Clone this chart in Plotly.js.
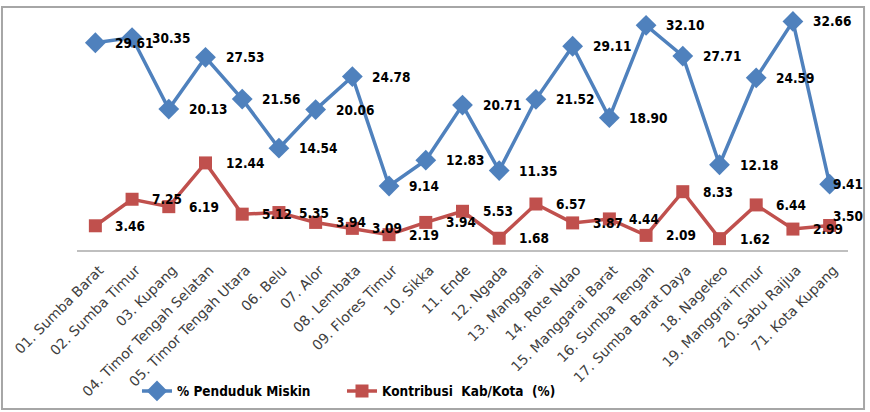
<!DOCTYPE html>
<html>
<head>
<meta charset="utf-8">
<script src="https://cdn.plot.ly/plotly-3.0.1.min.js"></script>
<style>
  html, body { margin: 0; padding: 0; background: #ffffff; }
  #chart { width: 870px; height: 412px; }
</style>
</head>
<body>
<div id="chart"></div>
<script>
const categories = [
  "01. Sumba Barat", "02. Sumba Timur", "03. Kupang", "04. Timor Tengah Selatan",
  "05. Timor Tengah Utara", "06. Belu", "07. Alor", "08. Lembata", "09. Flores Timur",
  "10. Sikka", "11. Ende", "12. Ngada", "13. Manggarai", "14. Rote Ndao",
  "15. Manggarai Barat", "16. Sumba Tengah", "17. Sumba Barat Daya", "18. Nagekeo",
  "19. Manggrai Timur", "20. Sabu Raijua", "71. Kota Kupang"
];
const pendudukMiskin = [29.61, 30.35, 20.13, 27.53, 21.56, 14.54, 20.06, 24.78, 9.14, 12.83,
  20.71, 11.35, 21.52, 29.11, 18.90, 32.10, 27.71, 12.18, 24.59, 32.66, 9.41];
const kontribusi = [3.46, 7.25, 6.19, 12.44, 5.12, 5.35, 3.94, 3.09, 2.19, 3.94,
  5.53, 1.68, 6.57, 3.87, 4.44, 2.09, 8.33, 1.62, 6.44, 2.99, 3.50];
const seriesNames = ["% Penduduk Miskin", "Kontribusi  Kab/Kota  (%)"];

const BLUE = "#4F81BD", RED = "#C0504D";
const labelFont = { family: "'Liberation Sans Narrow', 'DejaVu Sans Condensed', 'Arial Narrow', sans-serif", size: 13.5, color: "#000000", weight: "bold" };

const traces = [
  {
    x: categories, y: pendudukMiskin, name: seriesNames[0], type: "scatter", mode: "lines+markers",
    line: { color: BLUE, width: 3.5 },
    marker: { symbol: "diamond", size: 16, color: BLUE },
    cliponaxis: false, legend: "legend"
  },
  {
    x: categories, y: kontribusi, name: seriesNames[1], type: "scatter", mode: "lines+markers",
    line: { color: RED, width: 3.5 },
    marker: { symbol: "square", size: 13, color: RED },
    cliponaxis: false, legend: "legend2"
  }
];

const annotations = [];
[pendudukMiskin, kontribusi].forEach(function (vals, s) {
  const last = vals.length - 1;
  vals.forEach(function (v, i) {
    annotations.push({
      x: categories[i], y: v, xref: "x", yref: "y",
      text: v.toFixed(2), showarrow: false, xanchor: "left", yanchor: "middle",
      xshift: i === last ? 1 : 18,
      yshift: (i === last && s === 1) ? 10 : 0,
      font: labelFont
    });
  });
});

const legendCommon = { orientation: "h", y: -0.576, yanchor: "middle", xanchor: "left", font: labelFont, bgcolor: "rgba(0,0,0,0)" };

const layout = {
  width: 870, height: 412,
  margin: { l: 77, r: 22, t: 5, b: 162 },
  paper_bgcolor: "#ffffff", plot_bgcolor: "#ffffff",
  showlegend: true,
  legend: Object.assign({ x: 0.0778 }, legendCommon),
  legend2: Object.assign({ x: 0.3437 }, legendCommon),
  xaxis: {
    type: "category", range: [-0.5, 20.5], tickangle: -45, automargin: false,
    showline: true, linecolor: "#BFBFBF", linewidth: 1.5, showgrid: false, zeroline: false,
    ticks: "", ticklabelstandoff: 5, ticklabelshift: 4,
    tickfont: { family: "'DejaVu Sans', Tahoma, sans-serif", size: 14, color: "#404040" }
  },
  yaxis: {
    range: [0, 35], visible: false, showgrid: false, zeroline: false, fixedrange: true
  },
  annotations: annotations,
  shapes: [{
    type: "rect", xref: "paper", yref: "paper",
    x0: -0.0973, x1: 1.0208, y0: -0.649, y1: 0.9918,
    line: { color: "#A6A6A6", width: 2 }, fillcolor: "rgba(0,0,0,0)"
  }]
};

Plotly.newPlot("chart", traces, layout, { displayModeBar: false, staticPlot: true });
</script>
</body>
</html>
